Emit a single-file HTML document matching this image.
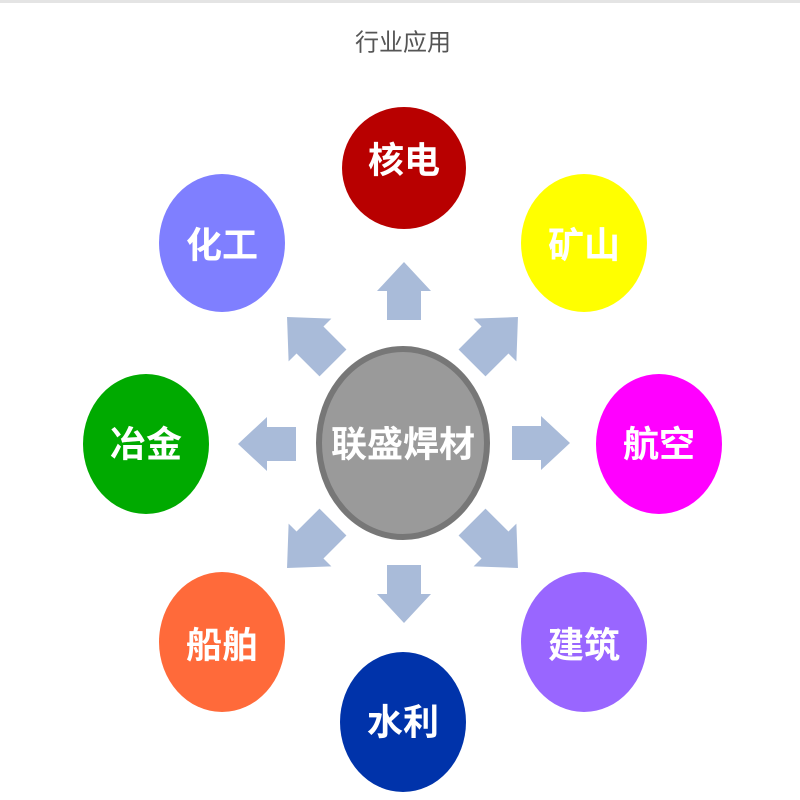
<!DOCTYPE html>
<html><head><meta charset="utf-8"><style>
html,body{margin:0;padding:0;background:#fff;width:800px;height:800px;overflow:hidden}
svg{display:block}
.t{font-family:"Liberation Sans","Noto Sans CJK SC",sans-serif;font-weight:bold;fill:#fff;font-size:36px;text-anchor:middle;dominant-baseline:central}
</style></head><body>
<svg width="800" height="800" viewBox="0 0 800 800">
<rect x="0" y="0" width="800" height="3" fill="#e4e4e4"/>
<text x="403" y="43" font-family="'Liberation Sans','Noto Sans CJK SC',sans-serif" font-size="24" fill="#555" text-anchor="middle" dominant-baseline="central">行业应用</text>
<defs><polygon id="ar" points="0,-29 27,0 17,0 17,29 -17,29 -17,0 -27,0" fill="#a9bbd9"/></defs>
<use href="#ar" transform="translate(404,291)"/>
<use href="#ar" transform="translate(541,443) rotate(90)"/>
<use href="#ar" transform="translate(404,594) rotate(180)"/>
<use href="#ar" transform="translate(267,444) rotate(-90)"/>
<use href="#ar" transform="translate(310,340) rotate(-45) scale(1.12)"/>
<use href="#ar" transform="translate(495,340) rotate(45) scale(1.12)"/>
<use href="#ar" transform="translate(310,545) rotate(-135) scale(1.12)"/>
<use href="#ar" transform="translate(495,545) rotate(135) scale(1.12)"/>
<ellipse cx="403" cy="443" rx="84" ry="94" fill="#9a9a9a" stroke="#777" stroke-width="6"/>
<text class="t" x="403" y="444" font-size="36">联盛焊材</text>
<ellipse cx="404" cy="168" rx="62" ry="61" fill="#b80000"/><text class="t" x="404" y="160">核电</text>
<ellipse cx="584" cy="243" rx="63" ry="69" fill="#ffff00"/><text class="t" x="584" y="245">矿山</text>
<ellipse cx="659" cy="444" rx="63" ry="70" fill="#ff00ff"/><text class="t" x="659" y="444">航空</text>
<ellipse cx="584" cy="642" rx="63" ry="70" fill="#9966ff"/><text class="t" x="584" y="645">建筑</text>
<ellipse cx="403" cy="722" rx="63" ry="70" fill="#0033aa"/><text class="t" x="403" y="722">水利</text>
<ellipse cx="222" cy="642" rx="63" ry="70" fill="#ff6a3a"/><text class="t" x="222" y="645">船舶</text>
<ellipse cx="146" cy="444" rx="63" ry="70" fill="#00aa00"/><text class="t" x="146" y="444">冶金</text>
<ellipse cx="222" cy="243" rx="63" ry="69" fill="#7f7fff"/><text class="t" x="222" y="245">化工</text>
</svg>
</body></html>
